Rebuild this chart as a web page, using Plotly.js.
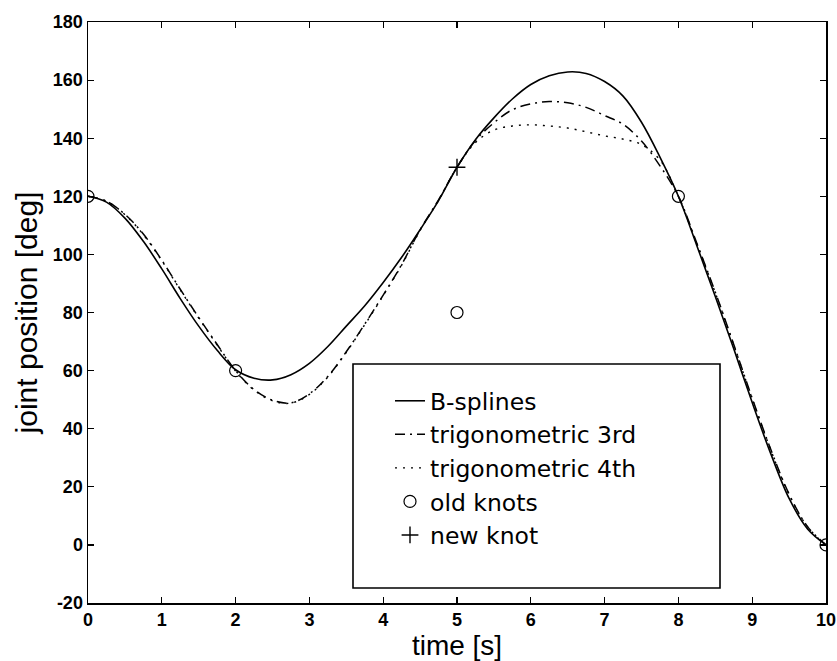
<!DOCTYPE html>
<html>
<head>
<meta charset="utf-8">
<script src="https://cdn.plot.ly/plotly-3.0.1.min.js"></script>
<style>html,body{margin:0;padding:0;background:#fff;}#chart{width:837px;height:661px;}</style>
</head>
<body>
<div id="chart"></div>
<script>
// time samples [s]
const time = [0,0.25,0.5,0.75,1,1.25,1.5,1.75,2,2.25,2.5,2.75,3,3.25,3.5,3.75,4,4.25,4.5,4.75,5,5.25,5.5,5.75,6,6.25,6.5,6.75,7,7.25,7.5,7.75,8,8.25,8.5,8.75,9,9.25,9.5,9.75,10];
// joint position [deg]
const bSplines = [120,118.0,112.5,104.5,95.0,84.8,75.3,67.0,60.3,57.4,56.8,58.6,62.5,68.3,75.3,82.3,90.3,99.0,108.5,118.5,130,139.5,147,153.5,158.5,161.5,162.8,162.3,159.5,154.5,145.5,133.5,120,103,85.5,67.5,49,31.5,16,5.5,0];
const trig3 = [120,118.3,113.8,107.0,98.0,88.0,78.3,69.0,60.0,53.5,49.8,48.9,52.0,58.0,66.5,76.0,86.0,96.5,108.5,118.8,130,139.2,145.3,149.8,151.8,152.6,152.2,150.6,147.8,144.8,139.0,130.5,120,103.8,87.0,69.0,50.5,33.0,17.5,6.3,0];
const trig4 = [120,118.3,113.7,106.8,97.8,87.8,78.1,68.8,59.8,53.3,49.6,48.8,51.8,57.8,66.3,75.8,85.8,96.3,108.3,118.6,130,138.5,142.8,144.2,144.6,144.2,143.5,142.2,140.8,139.7,137.8,132.5,120,103.6,86.8,68.8,50.3,32.8,17.3,6.2,0];
const oldKnotsT = [0,2,5,8,10];
const oldKnotsV = [120,60,80,120,0];
const newKnotT = [5];
const newKnotV = [130];
const seriesNames = ["B-splines","trigonometric 3rd","trigonometric 4th","old knots","new knot"];
const xTicks = [0,1,2,3,4,5,6,7,8,9,10];
const yTicks = [-20,0,20,40,60,80,100,120,140,160,180];

const traces = [
  {x: time, y: bSplines, name: seriesNames[0], mode: "lines", line: {color: "#000", width: 1.6, shape: "spline"}},
  {x: time, y: trig3, name: seriesNames[1], mode: "lines", line: {color: "#000", width: 1.5, dash: "10px,5px,2px,5px", shape: "spline"}},
  {x: time, y: trig4, name: seriesNames[2], mode: "lines", line: {color: "#000", width: 1.4, dash: "2px,6px", shape: "spline"}},
  {x: oldKnotsT, y: oldKnotsV, name: seriesNames[3], mode: "markers", marker: {symbol: "circle-open", size: 12, color: "#000", line: {width: 1.2, color: "#000"}}},
  {x: newKnotT, y: newKnotV, name: seriesNames[4], mode: "markers", marker: {symbol: "cross-thin-open", size: 12, color: "#000", line: {width: 1.4, color: "#000"}}}
];

const L = 88, R = 826, T = 22, B = 603;
const W = R - L, H = B - T;
function px(xp){ return (xp - L) / W; }
function py(yp){ return (B - yp) / H; }

const layout = {
  width: 837, height: 661,
  margin: {l: L, r: 837 - R, t: T, b: 661 - B, pad: 0},
  paper_bgcolor: "#fff", plot_bgcolor: "#fff",
  font: {family: "Liberation Sans, Arial, sans-serif", color: "#000"},
  showlegend: true,
  xaxis: {
    range: [0, 10], tickvals: xTicks, ticktext: xTicks.map(String),
    ticks: "inside", ticklen: 6, tickwidth: 1.2, tickcolor: "#000",
    showline: true, linecolor: "#000", linewidth: 1.5, mirror: "allticks",
    showgrid: false, zeroline: false, automargin: false,
    tickfont: {family: "Liberation Sans, Arial, sans-serif", size: 18, weight: "bold", color: "#000"},
    title: {text: "time [s]", font: {family: "Liberation Sans, Arial, sans-serif", size: 28, color: "#000"}, standoff: 5}
  },
  yaxis: {
    range: [-20, 180], tickvals: yTicks, ticktext: yTicks.map(String),
    ticks: "inside", ticklen: 6, tickwidth: 1.2, tickcolor: "#000",
    showline: true, linecolor: "#000", linewidth: 1.5, mirror: "allticks",
    showgrid: false, zeroline: false, automargin: false,
    tickfont: {family: "Liberation Sans, Arial, sans-serif", size: 18, weight: "bold", color: "#000"},
    title: {text: "joint position [deg]", font: {family: "Liberation Sans, Arial, sans-serif", size: 30, color: "#000"}, standoff: 6}
  },
  legend: {
    x: px(390), y: py(379), xanchor: "left", yanchor: "top",
    bgcolor: "rgba(0,0,0,0)", borderwidth: 0,
    font: {family: "DejaVu Sans, Liberation Sans, sans-serif", size: 23.5, color: "#000"},
    traceorder: "normal"
  },
  shapes: [
    {type: "rect", xref: "paper", yref: "paper", x0: px(353), x1: px(720), y0: py(588), y1: py(364),
     line: {color: "#000", width: 1.6}, fillcolor: "#fff", layer: "above"}
  ]
};

Plotly.newPlot("chart", traces, layout, {displayModeBar: false, staticPlot: true});
</script>
</body>
</html>
